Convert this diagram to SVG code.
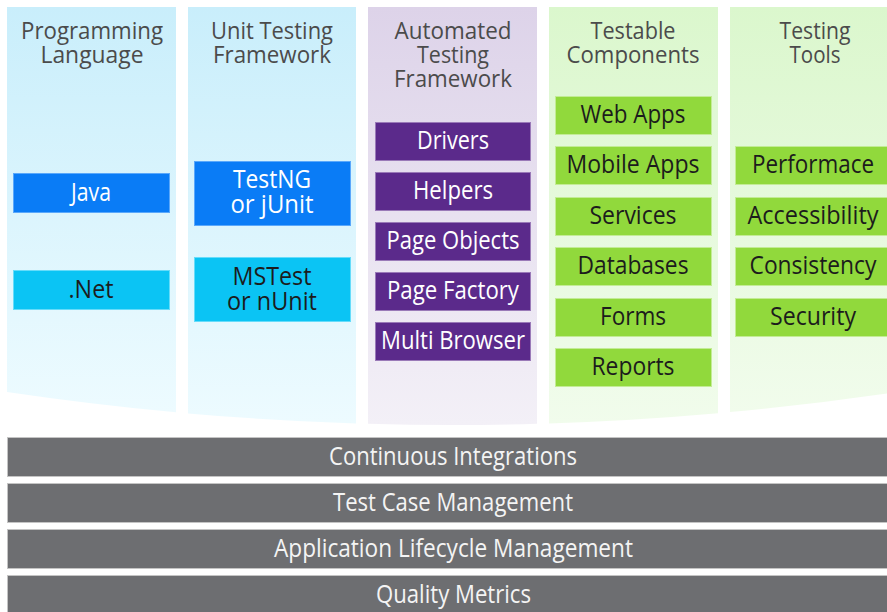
<svg xmlns="http://www.w3.org/2000/svg" width="887" height="612" viewBox="0 0 887 612">
<defs>
<linearGradient id="gBlue" x1="0" y1="0" x2="0" y2="1"><stop offset="0" stop-color="#c9eefb"/><stop offset="1" stop-color="#edfbff"/></linearGradient>
<linearGradient id="gPurple" x1="0" y1="0" x2="0" y2="1"><stop offset="0" stop-color="#ddd3e9"/><stop offset="1" stop-color="#f3f0f7"/></linearGradient>
<linearGradient id="gGreen" x1="0" y1="0" x2="0" y2="1"><stop offset="0" stop-color="#dbf7cd"/><stop offset="1" stop-color="#f1fcec"/></linearGradient>
<style>
text{font-family:"Open Sans","Noto Sans","Liberation Sans",sans-serif;text-anchor:middle}
.hd{font-size:24px;fill:#4b4b4b}
.bx{font-size:25px}
.w{fill:#ffffff}
.d{fill:#1c1c1c}
.bar{fill:#6d6e71;stroke:#c4c4c4;stroke-width:1}
.bt{font-size:25px;fill:#f4f4f4}
.java{fill:#0a7cf6;stroke:#5aa8fb;stroke-width:1}
.cyan{fill:#0bc4f4;stroke:#66dcfa;stroke-width:1}
.pur{fill:#5b2a8b;stroke:#9a7ab8;stroke-width:1}
.grn{fill:#91d93c;stroke:#c3ec95;stroke-width:1}
</style>
</defs>
<rect width="887" height="612" fill="#ffffff"/>

<g id="col-programming-language">
<path d="M7,7 H176 V412.3 Q91.5,404.5 7,392 Z" fill="url(#gBlue)"/>
<text class="hd" x="92" y="39" textLength="142" lengthAdjust="spacingAndGlyphs">Programming</text>
<text class="hd" x="92" y="63" textLength="103" lengthAdjust="spacingAndGlyphs">Language</text>
</g>
<g id="node-java">
<rect class="java" x="13.5" y="173.5" width="156" height="39"/>
<text class="bx w" x="91" y="201" textLength="40" lengthAdjust="spacingAndGlyphs">Java</text>
</g>
<g id="node-net">
<rect class="cyan" x="13.5" y="270.5" width="156" height="39"/>
<text class="bx d" x="91" y="298" textLength="45" lengthAdjust="spacingAndGlyphs">.Net</text>
</g>

<g id="col-unit-testing-framework">
<path d="M188,7 H356 V423.5 Q272,420.8 188,413.4 Z" fill="url(#gBlue)"/>
<text class="hd" x="272" y="39" textLength="122" lengthAdjust="spacingAndGlyphs">Unit Testing</text>
<text class="hd" x="272" y="63" textLength="118" lengthAdjust="spacingAndGlyphs">Framework</text>
</g>
<g id="node-testng">
<rect class="java" x="194.5" y="161.5" width="156" height="64"/>
<text class="bx w" x="272" y="188" textLength="78" lengthAdjust="spacingAndGlyphs">TestNG</text>
<text class="bx w" x="272" y="213" textLength="83" lengthAdjust="spacingAndGlyphs">or jUnit</text>
</g>
<g id="node-mstest">
<rect class="cyan" x="194.5" y="257.5" width="156" height="64"/>
<text class="bx d" x="272" y="285" textLength="79" lengthAdjust="spacingAndGlyphs">MSTest</text>
<text class="bx d" x="272" y="310" textLength="90" lengthAdjust="spacingAndGlyphs">or nUnit</text>
</g>

<g id="col-automated-testing-framework">
<path d="M368,7 H537 V423.8 Q452.5,426.2 368,423.8 Z" fill="url(#gPurple)"/>
<text class="hd" x="453" y="39" textLength="117" lengthAdjust="spacingAndGlyphs">Automated</text>
<text class="hd" x="453" y="63" textLength="72" lengthAdjust="spacingAndGlyphs">Testing</text>
<text class="hd" x="453" y="87" textLength="118" lengthAdjust="spacingAndGlyphs">Framework</text>
</g>
<g id="node-drivers">
<rect class="pur" x="375.5" y="122.5" width="155" height="38"/>
<text class="bx w" x="453" y="149" textLength="72" lengthAdjust="spacingAndGlyphs">Drivers</text>
</g>
<g id="node-helpers">
<rect class="pur" x="375.5" y="172.5" width="155" height="38"/>
<text class="bx w" x="453" y="199" textLength="80" lengthAdjust="spacingAndGlyphs">Helpers</text>
</g>
<g id="node-page-objects">
<rect class="pur" x="375.5" y="222.5" width="155" height="38"/>
<text class="bx w" x="453" y="249" textLength="133" lengthAdjust="spacingAndGlyphs">Page Objects</text>
</g>
<g id="node-page-factory">
<rect class="pur" x="375.5" y="272.5" width="155" height="38"/>
<text class="bx w" x="453" y="299" textLength="132" lengthAdjust="spacingAndGlyphs">Page Factory</text>
</g>
<g id="node-multi-browser">
<rect class="pur" x="375.5" y="322.5" width="155" height="38"/>
<text class="bx w" x="453" y="349" textLength="144" lengthAdjust="spacingAndGlyphs">Multi Browser</text>
</g>

<g id="col-testable-components">
<path d="M549,7 H718 V413.2 Q633.5,420.7 549,423.4 Z" fill="url(#gGreen)"/>
<text class="hd" x="633" y="39" textLength="85" lengthAdjust="spacingAndGlyphs">Testable</text>
<text class="hd" x="633" y="63" textLength="133" lengthAdjust="spacingAndGlyphs">Components</text>
</g>
<g id="node-web-apps">
<rect class="grn" x="555.5" y="96.5" width="156" height="38"/>
<text class="bx d" x="633" y="123" textLength="105" lengthAdjust="spacingAndGlyphs">Web Apps</text>
</g>
<g id="node-mobile-apps">
<rect class="grn" x="555.5" y="146.5" width="156" height="38"/>
<text class="bx d" x="633" y="173" textLength="133" lengthAdjust="spacingAndGlyphs">Mobile Apps</text>
</g>
<g id="node-services">
<rect class="grn" x="555.5" y="197.5" width="156" height="38"/>
<text class="bx d" x="633" y="224" textLength="87" lengthAdjust="spacingAndGlyphs">Services</text>
</g>
<g id="node-databases">
<rect class="grn" x="555.5" y="247.5" width="156" height="38"/>
<text class="bx d" x="633" y="274" textLength="111" lengthAdjust="spacingAndGlyphs">Databases</text>
</g>
<g id="node-forms">
<rect class="grn" x="555.5" y="298.5" width="156" height="38"/>
<text class="bx d" x="633" y="325" textLength="66" lengthAdjust="spacingAndGlyphs">Forms</text>
</g>
<g id="node-reports">
<rect class="grn" x="555.5" y="348.5" width="156" height="38"/>
<text class="bx d" x="633" y="375" textLength="83" lengthAdjust="spacingAndGlyphs">Reports</text>
</g>

<g id="col-testing-tools">
<path d="M730,7 H890 V393 Q808.5,404.8 730,412.1 Z" fill="url(#gGreen)"/>
<text class="hd" x="815" y="39" textLength="71" lengthAdjust="spacingAndGlyphs">Testing</text>
<text class="hd" x="815" y="63" textLength="51" lengthAdjust="spacingAndGlyphs">Tools</text>
</g>
<g id="node-performace">
<rect class="grn" x="735.5" y="146.5" width="156" height="38"/>
<text class="bx d" x="813" y="173" textLength="122" lengthAdjust="spacingAndGlyphs">Performace</text>
</g>
<g id="node-accessibility">
<rect class="grn" x="735.5" y="197.5" width="156" height="38"/>
<text class="bx d" x="813" y="224" textLength="131" lengthAdjust="spacingAndGlyphs">Accessibility</text>
</g>
<g id="node-consistency">
<rect class="grn" x="735.5" y="247.5" width="156" height="38"/>
<text class="bx d" x="813" y="274" textLength="127" lengthAdjust="spacingAndGlyphs">Consistency</text>
</g>
<g id="node-security">
<rect class="grn" x="735.5" y="298.5" width="156" height="38"/>
<text class="bx d" x="813" y="325" textLength="86" lengthAdjust="spacingAndGlyphs">Security</text>
</g>

<g id="bar-continuous-integrations">
<rect class="bar" x="7.5" y="437.5" width="885" height="39"/>
<text class="bt" x="453" y="465" textLength="248" lengthAdjust="spacingAndGlyphs">Continuous Integrations</text>
</g>
<g id="bar-test-case-management">
<rect class="bar" x="7.5" y="483.5" width="885" height="39"/>
<text class="bt" x="453" y="511" textLength="240" lengthAdjust="spacingAndGlyphs">Test Case Management</text>
</g>
<g id="bar-application-lifecycle-management">
<rect class="bar" x="7.5" y="529.5" width="885" height="39"/>
<text class="bt" x="453.5" y="557" textLength="359" lengthAdjust="spacingAndGlyphs">Application Lifecycle Management</text>
</g>
<g id="bar-quality-metrics">
<rect class="bar" x="7.5" y="575.5" width="885" height="39"/>
<text class="bt" x="453.5" y="603" textLength="155" lengthAdjust="spacingAndGlyphs">Quality Metrics</text>
</g>

<g id="connectors"/>
</svg>
